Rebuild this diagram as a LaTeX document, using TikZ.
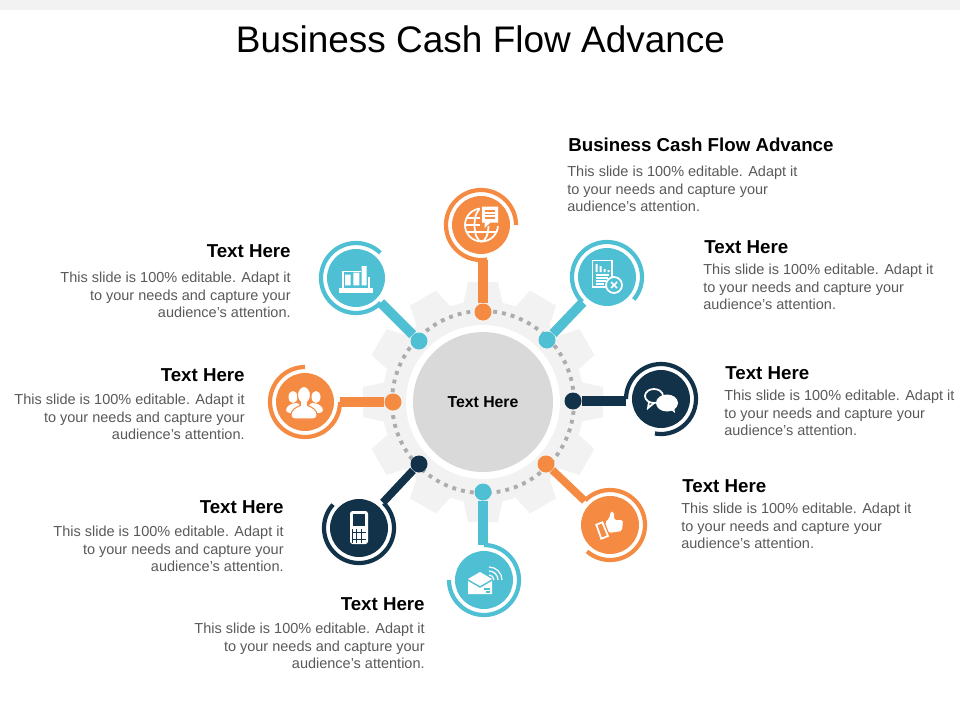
\documentclass[tikz,border=0pt]{standalone}
\usepackage{fontspec}
\setmainfont{Liberation Sans}
\definecolor{cashorange}{HTML}{F58B43}
\definecolor{cashblue}{HTML}{4FBFD3}
\definecolor{cashdark}{HTML}{12324A}
\definecolor{cashgray}{HTML}{D9D9D9}
\definecolor{cashgear}{HTML}{F2F2F2}
\definecolor{cashtext}{HTML}{595959}
\tikzset{
  hubdisc/.style={circle, fill=cashgray, minimum size=2.8cm, inner sep=0, font=\bfseries\fontsize{9}{11}\selectfont},
  ringnode/.style={circle, minimum size=1.4cm, inner sep=0, outer sep=0},
  disc/.style={circle, minimum size=1.16cm, inner sep=0},
  dotnode/.style={circle, minimum size=0.34cm, inner sep=0},
  ringline/.style={line width=2.4pt},
  stem/.style={line width=5.5pt},
  thinstem/.style={line width=4.4pt},
  head/.style={inner sep=0, font=\bfseries\fontsize{10.65}{12}\selectfont},
  bodytext/.style={inner sep=0, text=cashtext, font=\fontsize{8.25}{9.97}\selectfont},
  iconline/.style={white, line width=1pt}
}
\begin{document}
\begin{tikzpicture}[x=0.02cm, y=-0.02cm]
\useasboundingbox (0,0) rectangle (960,720);
\fill[cashgear] (0,0) rectangle (960,10);
\node[inner sep=0, font=\fontsize{21.05}{26}\selectfont] (title) at (480.5,39) {Business Cash Flow Advance};

% gear behind the hub
\coordinate (gearmid) at (483,402);
\begin{scope}[shift={(gearmid)}]
\fill[cashgear] (0,0) circle (101);
\foreach \a in {0,30,...,330}
  \fill[cashgear, rotate=\a] (-20,-97) -- (-15,-120) -- (15,-120) -- (20,-97) -- cycle;
\fill[white] (0,0) circle (77);
\draw[cashgray!75!black!90, line width=2.2pt, dash pattern=on 2.2pt off 2.9pt] (0,0) circle (91);
\end{scope}
\node[hubdisc] (hub) at (483,402) {Text Here};

% dots on the dotted ring
\node[dotnode, fill=cashorange] (dottop) at (483,312) {};
\node[dotnode, fill=cashblue] (dotul) at (419,341) {};
\node[dotnode, fill=cashblue] (dotur) at (547,340) {};
\node[dotnode, fill=cashorange] (dotl) at (393,402) {};
\node[dotnode, fill=cashdark] (dotr) at (573,401) {};
\node[dotnode, fill=cashdark] (dotll) at (419,464) {};
\node[dotnode, fill=cashorange] (dotlr) at (546,464) {};
\node[dotnode, fill=cashblue] (dotb) at (483,492) {};

% outer circles
\node[ringnode] (top) at (481,225) {};
\node[ringnode] (ul) at (356,278) {};
\node[ringnode] (ur) at (607,277) {};
\node[ringnode] (l) at (305,402) {};
\node[ringnode] (r) at (661,399) {};
\node[ringnode] (ll) at (359,528) {};
\node[ringnode] (lr) at (610,525) {};
\node[ringnode] (b) at (484,580) {};
\node[disc, fill=cashorange] (topdisc) at (top) {};
\node[disc, fill=cashblue] (uldisc) at (ul) {};
\node[disc, fill=cashblue] (urdisc) at (ur) {};
\node[disc, fill=cashorange] (ldisc) at (l) {};
\node[disc, fill=cashdark] (rdisc) at (r) {};
\node[disc, fill=cashdark] (lldisc) at (ll) {};
\node[disc, fill=cashorange] (lrdisc) at (lr) {};
\node[disc, fill=cashblue] (bdisc) at (b) {};

\draw[stem, cashorange] (dottop) -- (dottop |- top.south);
\draw[stem, cashblue] (dotul) -- (ul);
\draw[stem, cashblue] (dotur) -- (ur);
\draw[stem, cashorange] (dotl) -- (dotl -| l.east);
\draw[stem, cashdark] (dotr) -- (dotr -| r.west);
\draw[thinstem, cashdark] (dotll) -- (ll);
\draw[thinstem, cashorange] (dotlr) -- (lr);
\draw[stem, cashblue] (dotb) -- (dotb |- b.north);

% rings, open on one side
\draw[ringline, cashorange] (top.0) arc[start angle=0, end angle=-280, radius=35];
\draw[ringline, cashblue] (ul.46) arc[start angle=-46, end angle=-315, radius=35];
\draw[ringline, cashblue] (ur.-40) arc[start angle=40, end angle=-225, radius=35];
\draw[ringline, cashorange] (l.90) arc[start angle=-90, end angle=-360, radius=35];
\draw[ringline, cashdark] (r.180) arc[start angle=-180, end angle=100, radius=35];
\draw[ringline, cashdark] (ll.138) arc[start angle=-138, end angle=-405, radius=35];
\draw[ringline, cashorange] (lr.135) arc[start angle=-135, end angle=131, radius=35];
\draw[ringline, cashblue] (b.90) arc[start angle=-90, end angle=180, radius=35];

% globe and speech bubble
\begin{scope}[shift={(482,225)}]
\draw[iconline] (-0.5,0) circle (16.5);
\draw[iconline] (-0.5,0) ellipse (7 and 16.5);
\draw[iconline] (-17,0) -- (16,0) (-15,-7) -- (14,-7) (-15,7) -- (14,7);
\fill[cashorange] (-2,-20) rectangle (18,1);
\fill[white] (0,-18.5) rectangle (16,-2.5) (2.5,-3) -- (2.5,3) -- (9,-3) -- cycle;
\draw[cashorange, line width=0.8pt] (3,-14) -- (13,-14) (3,-10.5) -- (13,-10.5) (3,-7) -- (13,-7);
\end{scope}
% laptop with bars
\begin{scope}[shift={(357,279)}]
\draw[iconline] (-14,10) -- (-14,-7.5) -- (4,-7.5);
\draw[iconline] (12,-2) -- (12,10);
\fill[white] (-17.7,9) rectangle (16.3,13.7);
\fill[white] (-12,-4.3) rectangle (-6.3,6.3) (-3.7,-6.3) rectangle (2.3,6.3) (4.7,-13) rectangle (9.7,6.3);
\end{scope}
% document with cross
\begin{scope}[shift={(607,277)}]
\draw[iconline] (-14.5,-16.5) rectangle (5,10);
\fill[white] (-11.5,-13) rectangle (-9.5,-5) (-7.5,-11) rectangle (-5.5,-5) (-3.5,-8) rectangle (-1.5,-5) (0.5,-7) rectangle (2.5,-5);
\draw[iconline, line width=0.7pt] (-11.5,-2) -- (2,-2) (-11.5,1) -- (1,1) (-11.5,4) -- (-1,4) (-11.5,7) -- (-3,7);
\filldraw[fill=cashblue, draw=white, line width=1pt] (7,8) circle (8);
\draw[iconline] (4,5) -- (10,11) (4,11) -- (10,5);
\end{scope}
% three people
\begin{scope}[shift={(305,402)}]
\fill[white] (-12,-5) ellipse (4.5 and 6) (11,-5) ellipse (4.5 and 6);
\fill[white, rounded corners=2pt] (-19,11) -- (-19,5) -- (-12,1) -- (-5,1) -- (-5,11) -- cycle;
\fill[white, rounded corners=2pt] (18,11) -- (18,5) -- (11,1) -- (4,1) -- (4,11) -- cycle;
\filldraw[fill=white, draw=cashorange, line width=0.6pt, rounded corners=2pt] (-14,17) -- (-14,9) -- (-5,3) -- (3,3) -- (12,9) -- (12,17) -- cycle;
\filldraw[fill=white, draw=cashorange, line width=0.6pt] (-1,-7) ellipse (6.5 and 8.5);
\fill[white] (-4,-1) rectangle (2,6);
\end{scope}
% two speech bubbles
\begin{scope}[shift={(661,399)}]
\draw[iconline] (-7,-3) ellipse (9 and 7);
\draw[iconline] (-12,3) -- (-13,9) -- (-7,4);
\fill[white] (6,4) ellipse (11 and 8.5);
\fill[white] (9,10) -- (14,14) -- (13,7) -- cycle;
\end{scope}
% phone
\begin{scope}[shift={(359,528)}]
\fill[white, rounded corners=1.5pt] (-9,-17) rectangle (9,16);
\fill[cashdark] (-6,-14) rectangle (6,-2);
\fill[cashdark] (-7,1) rectangle (7,15);
\foreach \cy in {2.8,6.3,9.8,13.3}
  \foreach \cx in {-4.6,0,4.6}
    \fill[white] (\cx-1.9,\cy-1.4) rectangle (\cx+1.9,\cy+1.4);
\end{scope}
% thumb up
\begin{scope}[shift={(610,525)}]
\draw[iconline] (-13.7,-0.3) -- (-7.7,-2.7) -- (-2,11) -- (-8.7,13.7) -- cycle;
\fill[white, rounded corners=1pt] (-5,-3) -- (-1,-6) -- (1,-14) -- (4,-13) -- (4,-5) -- (13,-5) -- (12,6) -- (-1,8) -- cycle;
\end{scope}
% envelope with signal
\begin{scope}[shift={(484,580)}]
\fill[white] (-16,-1) -- (-4,-8) -- (8,-1) -- (8,14) -- (-16,14) -- cycle;
\draw[cashblue, line width=0.8pt] (-16,0) -- (-4,7) -- (8,0);
\draw[cashblue, line width=0.6pt] (0,9) -- (6,9) (2,12) -- (6,12);
\draw[iconline, line width=0.7pt] (5,-5) arc[start angle=-90, end angle=0, radius=5];
\draw[iconline, line width=0.7pt] (5,-9) arc[start angle=-90, end angle=0, radius=9];
\draw[iconline, line width=0.7pt] (5,-13) arc[start angle=-90, end angle=0, radius=13];
\end{scope}

% labels
\node[head, anchor=west] (toph) at (568,145) {Business Cash Flow Advance};
\node[bodytext, anchor=west, align=left] (topt) at (567,189) {This slide is 100\% editable. Adapt it\\to your needs and capture your\\audience's attention.};
\node[head, anchor=east] (ulh) at (291,251) {Text Here};
\node[bodytext, anchor=east, align=right] (ult) at (291,295) {This slide is 100\% editable. Adapt it\\to your needs and capture your\\audience's attention.};
\node[head, anchor=west] (urh) at (704,247) {Text Here};
\node[bodytext, anchor=west, align=left] (urt) at (703,287) {This slide is 100\% editable. Adapt it\\to your needs and capture your\\audience's attention.};
\node[head, anchor=east] (lh) at (245,375) {Text Here};
\node[bodytext, anchor=east, align=right] (lt) at (245,417) {This slide is 100\% editable. Adapt it\\to your needs and capture your\\audience's attention.};
\node[head, anchor=west] (rh) at (725,373) {Text Here};
\node[bodytext, anchor=west, align=left] (rt) at (724,413) {This slide is 100\% editable. Adapt it\\to your needs and capture your\\audience's attention.};
\node[head, anchor=east] (llh) at (284,507) {Text Here};
\node[bodytext, anchor=east, align=right] (llt) at (284,549) {This slide is 100\% editable. Adapt it\\to your needs and capture your\\audience's attention.};
\node[head, anchor=west] (lrh) at (682,486) {Text Here};
\node[bodytext, anchor=west, align=left] (lrt) at (681,526) {This slide is 100\% editable. Adapt it\\to your needs and capture your\\audience's attention.};
\node[head, anchor=east] (bh) at (425,604) {Text Here};
\node[bodytext, anchor=east, align=right] (bt) at (425,646) {This slide is 100\% editable. Adapt it\\to your needs and capture your\\audience's attention.};
\end{tikzpicture}
\end{document}
